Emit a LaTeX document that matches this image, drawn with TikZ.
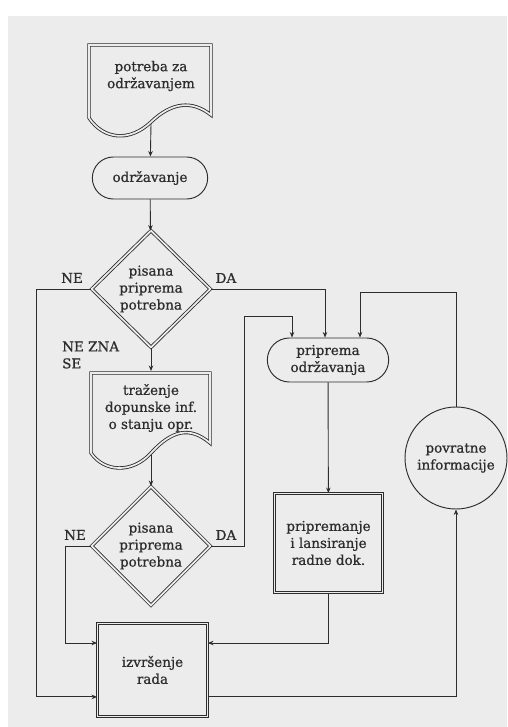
\documentclass[tikz,border=0pt]{standalone}
\usepackage{fontspec}
\setmainfont{DejaVu Serif}[FakeBold=0.8]
\usetikzlibrary{shapes.geometric, shapes.misc, arrows.meta}
\definecolor{paper}{RGB}{236,236,236}
\definecolor{ink}{RGB}{45,45,45}
\tikzstyle{arrow} = [draw=ink, line width=0.9pt, -{Stealth[length=5.5pt,width=4.5pt]}]
\tikzstyle{dbl} = [draw=ink, line width=0.85pt, double=paper, double distance=1.7pt]
\tikzstyle{term} = [rounded rectangle, draw=ink, line width=0.95pt, fill=paper]
\tikzstyle{label} = [inner sep=0pt]

\begin{document}
\begin{tikzpicture}[x=1pt, y=-1pt, every node/.style={font=\fontsize{13.5}{17}\selectfont, text=ink, align=center}]
        \useasboundingbox (0,0) rectangle (507,727);
        \fill[white] (0,0) rectangle (507,727);
        \fill[paper] (8,16) rectangle (507,727);

        % document outlines
        \draw[dbl] (89,45) -- (211,45) -- (211,115) .. controls (192,100) and (172,102) .. (151,122) .. controls (130,142) and (104,140) .. (89,118) -- cycle;
        \draw[dbl] (91,373) -- (210,373) -- (210,443) .. controls (190,426) and (172,430) .. (151,453) .. controls (132,474) and (104,472) .. (91,453) -- cycle;

        % nodes
        \node (need) at (151,76) {potreba za\\održavanjem};
        \coordinate (needout) at (151,124);
        \node[term, minimum width=122pt, minimum height=42pt] (odr) at (150,178) {održavanje};
        \node[diamond, dbl, aspect=1, minimum width=119pt, minimum height=117pt, inner sep=0pt] (pit1) at (151,289) {pisana\\priprema\\potrebna};
        \node (search) at (151,408) {traženje\\dopunske inf.\\o stanju opr.};
        \coordinate (searchin) at (151,371);
        \coordinate (searchout) at (151,455);
        \node[diamond, dbl, aspect=1, minimum width=119pt, minimum height=119pt, inner sep=0pt] (pit2) at (151,546) {pisana\\priprema\\potrebna};
        \node[rectangle, dbl, minimum width=110pt, minimum height=93pt] (izv) at (152.5,670) {izvršenje\\rada};
        \node[term, minimum width=128pt, minimum height=44pt] (prip) at (328,360) {priprema\\održavanja};
        \node[rectangle, dbl, minimum width=108pt, minimum height=99pt] (lans) at (328.5,543) {pripremanje\\i lansiranje\\radne dok.};
        \node[circle, draw=ink, line width=0.95pt, minimum size=102pt] (info) at (456,458) {povratne\\informacije};

        % labels
        \node[label, anchor=west] (ne1) at (61,278) {NE};
        \node[label] (da1) at (226,278) {DA};
        \node[label, anchor=west, align=left] (nezna) at (62,355) {NE ZNA\\SE};
        \node[label, anchor=west] (ne2) at (64,535) {NE};
        \node[label] (da2) at (226,535) {DA};

        % connectors
        \draw[arrow] (needout) -- (odr);
        \draw[arrow] (odr) -- (pit1);
        \draw[arrow] (pit1.west) -- ++(-55,0) |- ([yshift=20pt]izv.south west);
        \draw[arrow] (pit1.east) -| ([xshift=-3pt]prip.north);
        \draw[arrow] (pit1) -- (searchin);
        \draw[arrow] (searchout) -- (pit2);
        \draw[arrow] (pit2.west) -- ++(-26,0) |- ([yshift=27pt]izv.west);
        \draw[arrow] (pit2.east) -- ++(34,0) -- ++(0,-230) -| ([xshift=-36pt]prip.north);
        \draw[arrow] (info.north) -- ++(0,-114) -| ([xshift=32pt]prip.north);
        \draw[arrow] (prip) -- (lans);
        \draw[arrow] (lans.south) |- ([yshift=27pt]izv.east);
        \draw[arrow] ([yshift=20pt]izv.south east) -| (info.south);
\end{tikzpicture}
\end{document}
